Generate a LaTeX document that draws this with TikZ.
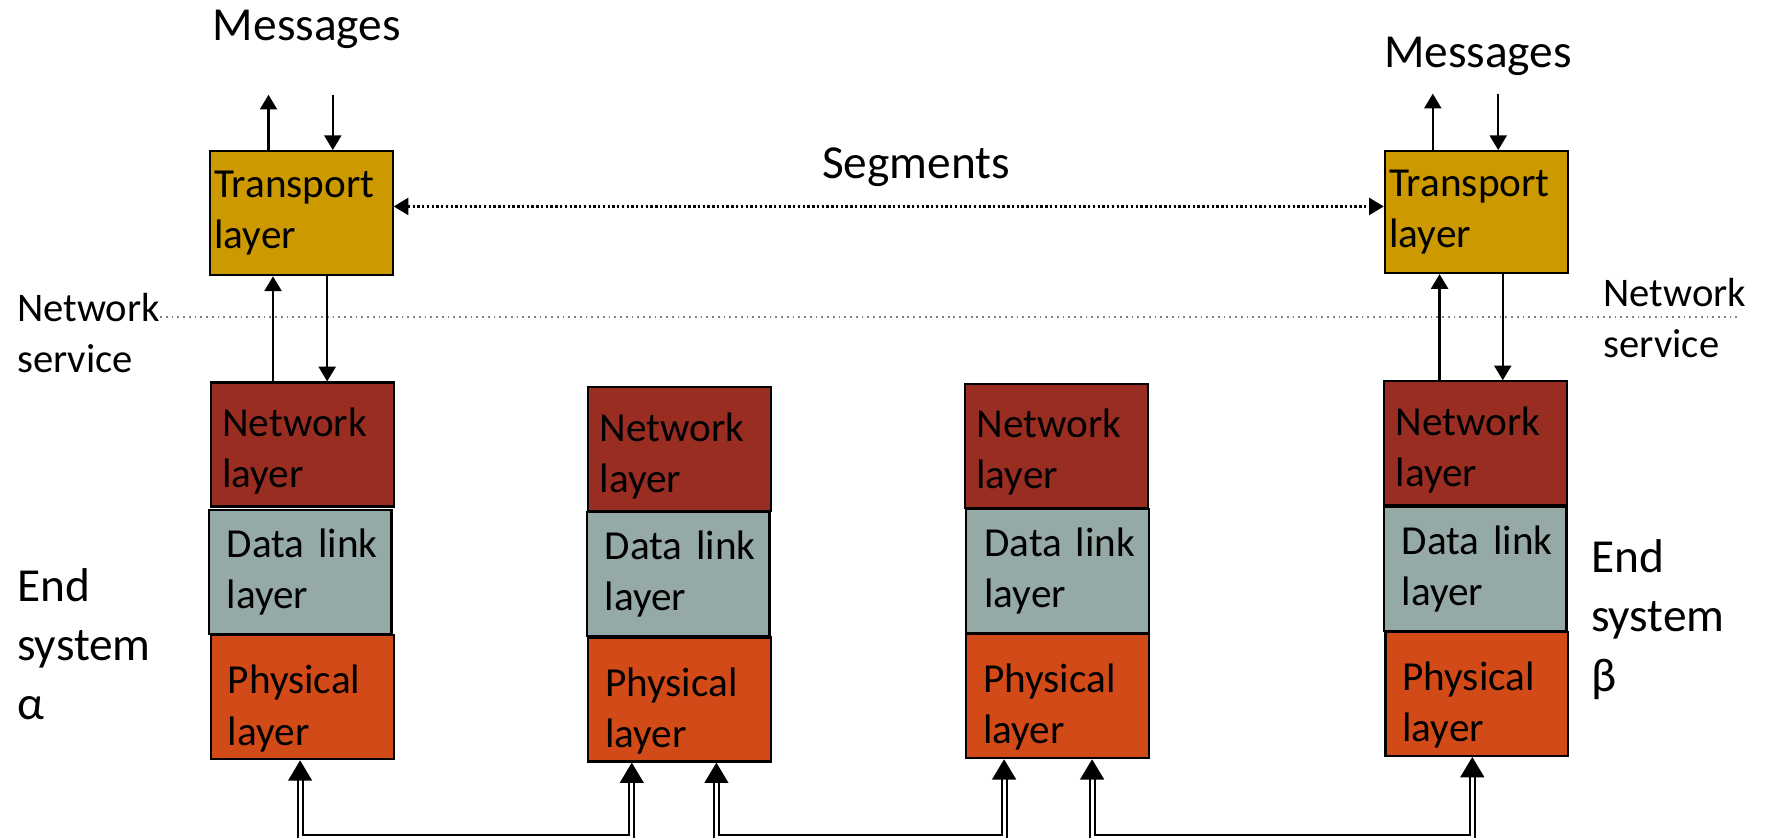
\documentclass[tikz,border=0pt]{standalone}
\usepackage{fontspec}
\setmainfont{Carlito}
\usetikzlibrary{arrows.meta}
\definecolor{trc}{HTML}{CC9900}
\definecolor{nec}{HTML}{992D22}
\definecolor{dlc}{HTML}{95A9A6}
\definecolor{phc}{HTML}{D24A18}
\newcommand{\lowertext}[1]{\rule{0pt}{\dimexpr\fontcharht\font`k+#1\relax}}
\begin{document}
\begin{tikzpicture}[x=0.02cm,y=-0.02cm,
  layerbox/.style={draw=black, line width=1.1pt, minimum height=2.2cm, align=left,
    inner ysep=0pt, font=\fontsize{20.8}{25.8}\selectfont},
  trbox/.style={layerbox, fill=trc, inner xsep=0.08cm, text width=3.08cm},
  nebox/.style={layerbox, fill=nec, inner xsep=0.2cm, text width=2.84cm,
    execute at begin node={\lowertext{0.24cm}}},
  dlbox/.style={layerbox, fill=dlc, inner xsep=0.32cm, text width=2.6cm},
  phbox/.style={layerbox, fill=phc, inner xsep=0.3cm, text width=2.64cm,
    execute at begin node={\lowertext{0.4cm}}},
  biglbl/.style={inner sep=0pt, align=left, font=\fontsize{23.9}{30}\selectfont},
  midlbl/.style={inner sep=0pt, align=left, font=\fontsize{20.5}{26}\selectfont},
  arr/.style={line width=1.1pt, -{Triangle[length=0.26cm, width=0.3cm]}},
  segarr/.style={line width=1.2pt, dash pattern=on 1.2pt off 1.2pt,
    {Triangle[length=0.26cm, width=0.3cm]}-{Triangle[length=0.26cm, width=0.3cm]}},
  nsline/.style={line width=0.9pt, gray, dash pattern=on 0.9pt off 2pt},
  dblarr/.style={line width=1.1pt, double, double distance=0.05cm,
    {Triangle[length=0.36cm, width=0.42cm]}-{Triangle[length=0.36cm, width=0.42cm]}}
]
\useasboundingbox (0,0) rectangle (1568,742);

% column 1 (end system alpha)
\node[trbox] (tr1) at (267,189) {Transport\\layer};
\node[nebox] (net1) at (268,394) {Network\\layer};
\node[dlbox] (dl1) at (266,507) {Data~link\\layer};
\node[phbox] (ph1) at (268,618) {Physical\\layer};
% column 2
\node[nebox] (net2) at (602.5,398) {Network\\layer};
\node[dlbox] (dl2) at (601,509) {Data~link\\layer};
\node[phbox] (ph2) at (602.5,620) {Physical\\layer};
% column 3
\node[nebox] (net3) at (936.5,395) {Network\\layer};
\node[dlbox] (dl3) at (937.5,506) {Data~link\\layer};
\node[phbox] (ph3) at (937.5,617) {Physical\\layer};
% column 4 (end system beta)
\node[trbox, minimum height=2.16cm] (tr4) at (1308.5,188) {Transport\\layer};
\node[nebox] (net4) at (1308,393) {Network\\layer};
\node[dlbox] (dl4) at (1307.5,504.5) {Data~link\\layer};
\node[phbox] (ph4) at (1309,615) {Physical\\layer};

% labels
\node[biglbl] (msg1) at (272,26) {Messages};
\node[biglbl] (msg4) at (1310,50) {Messages};
\node[biglbl] (seg) at (812,148) {Segments};
\node[midlbl, anchor=west] (ns1) at (15,295) {Network\\service};
\node[midlbl, anchor=west] (ns4) at (1421,282) {Network\\service};
\node[biglbl, anchor=west] (esa) at (15,571) {End\\system\\α};
\node[biglbl, anchor=west] (esb) at (1410,549) {End\\system\\β};

% network service line
\coordinate (nsa) at (142,281);
\coordinate (nsb) at (1541,281);
\draw[nsline] (nsa) -- (nsb);

% messages arrows
\coordinate (m1u) at (238,84);
\coordinate (m1d) at (295,84);
\coordinate (m4u) at (1270,83);
\coordinate (m4d) at (1328,83);
\draw[arr] (m1u |- tr1.north) -- (m1u);
\draw[arr] (m1d) -- (m1d |- tr1.north);
\draw[arr] (m4u |- tr4.north) -- (m4u);
\draw[arr] (m4d) -- (m4d |- tr4.north);

% transport <-> network
\coordinate (u1) at (242,0);
\coordinate (d1) at (290,0);
\coordinate (u4) at (1276,0);
\coordinate (d4) at (1332,0);
\draw[arr] (u1 |- net1.north) -- (u1 |- tr1.south);
\draw[arr] (d1 |- tr1.south) -- (d1 |- net1.north);
\draw[arr] (u4 |- net4.north) -- (u4 |- tr4.south);
\draw[arr] (d4 |- tr4.south) -- (d4 |- net4.north);

% segments
\coordinate (sg) at (0,183);
\draw[segarr] (tr1.east |- sg) -- (tr4.west |- sg);

% physical links
\coordinate (bot) at (0,742);
\coordinate (b1) at (266,0);
\coordinate (b2) at (560,0);
\coordinate (b3) at (635,0);
\coordinate (b4) at (890,0);
\coordinate (b5) at (968,0);
\coordinate (b6) at (1305,0);
\draw[dblarr] (b1 |- ph1.south) -- (b1 |- bot) -- (b2 |- bot) -- (b2 |- ph2.south);
\draw[dblarr] (b3 |- ph2.south) -- (b3 |- bot) -- (b4 |- bot) -- (b4 |- ph3.south);
\draw[dblarr] (b5 |- ph3.south) -- (b5 |- bot) -- (b6 |- bot) -- (b6 |- ph4.south);
\end{tikzpicture}
\end{document}
